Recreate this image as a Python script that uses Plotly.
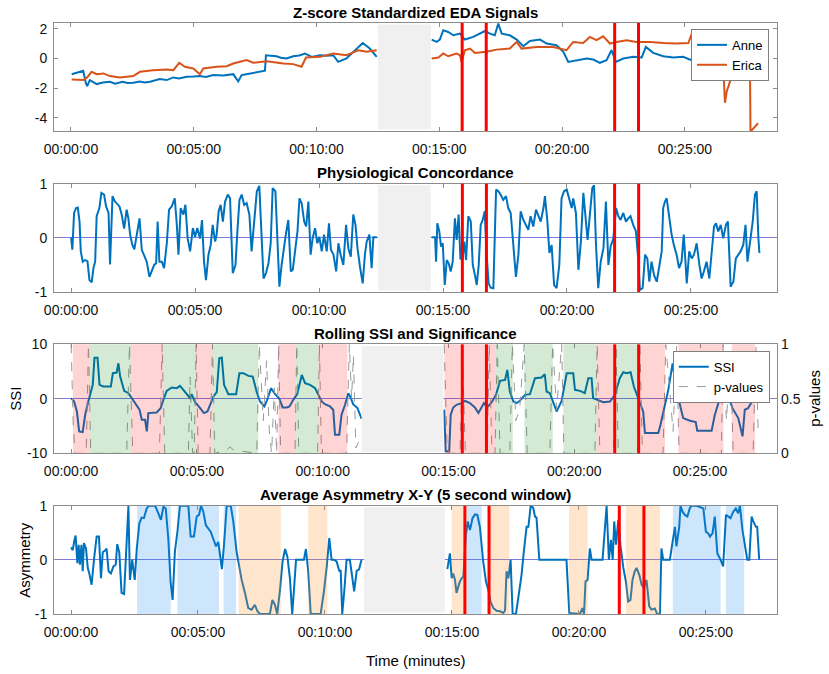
import plotly.graph_objects as go

# ---- data (time in minutes) ----
anne_a = [(0.03,-1.06),(0.30,-0.90),(0.50,-0.83),(0.61,-1.68),(0.66,-1.87),(0.77,-1.46),(1.05,-1.73),(1.30,-1.62),
          (1.59,-1.57),(1.80,-1.70),(2.10,-1.58),(2.30,-1.66),(2.54,-1.64),(2.80,-1.55),(3.00,-1.62),(3.22,-1.57),
          (3.62,-1.39),(3.90,-1.46),(4.17,-1.28),(4.40,-1.35),(4.71,-1.24),(5.00,-1.22),(5.25,-1.19),(5.50,-1.25),
          (5.79,-1.12),(6.20,-1.15),(6.61,-1.06),(6.81,-1.55),(6.95,-1.12),(7.20,-1.05),(7.45,-0.98),(7.70,-0.90),
          (7.90,-0.83),(7.94,0.22),(8.10,0.20),(8.37,0.15),(8.55,0.05),(8.78,0.0),(9.05,0.15),(9.30,0.20),
          (9.53,0.34),(9.80,0.11),(10.14,0.22),(10.40,0.18),(10.68,0.22),(10.88,-0.23),(11.22,0.0),(11.49,0.45),
          (11.88,1.05),(12.17,0.67),(12.45,0.11)]
anne_b = [(14.69,1.28),(14.89,1.12),(15.02,1.28),(15.16,1.91),(15.36,1.79),(15.57,1.57),(15.84,1.68),(16.04,1.28),
          (16.38,1.46),(16.65,1.68),(16.86,1.86),(17.06,1.68),(17.26,1.57),(17.40,2.36),(17.54,1.68),(17.87,1.57),
          (18.15,1.28),(18.42,0.83),(18.69,1.19),(19.10,1.28),(19.37,1.01),(19.77,0.90),(20.05,0.45),(20.25,-0.23),
          (20.59,-0.11),(21.00,0.0),(21.27,-0.07),(21.54,-0.29),(21.81,-0.11),(22.01,0.56),(22.19,-0.23),(22.49,0.0),
          (22.90,0.11),(23.24,0.07),(23.41,0.78),(23.71,0.38),(24.12,0.15),(24.52,0.07),(24.93,0.11),(25.34,-0.16),
          (25.75,0.0),(26.02,-0.11),(26.43,-0.34)]
erica_a = [(0.03,-1.42),(0.50,-1.46),(0.66,-1.28),(0.84,-0.90),(1.05,-1.06),(1.32,-1.01),(1.59,-1.19),(1.99,-1.28),
           (2.54,-1.19),(2.81,-0.90),(3.35,-0.79),(3.90,-0.74),(4.17,-0.79),(4.41,-0.29),(4.64,-0.56),(4.98,-0.67),
           (5.25,-1.06),(5.39,-0.67),(5.93,-0.56),(6.34,-0.52),(6.61,-0.34),(7.15,-0.11),(7.42,-0.29),(7.97,-0.18),
           (8.65,-0.34),(9.05,-0.38),(9.39,-0.56),(9.57,0.07),(10.14,0.11),(10.68,0.34),(11.22,0.22),(11.70,0.56),
           (12.04,0.45),(12.45,0.56)]
erica_b = [(14.69,0.0),(14.96,0.07),(15.16,0.34),(15.36,0.15),(15.70,0.34),(15.84,0.22),(15.91,-0.23),(16.04,0.56),
           (16.25,0.67),(16.45,0.38),(16.92,0.45),(17.33,0.60),(17.87,0.67),(18.15,1.12),(18.35,0.67),(18.96,0.78),
           (19.64,0.78),(20.18,0.56),(20.45,1.12),(20.86,1.05),(21.13,1.46),(21.40,1.24),(21.67,1.50),(21.95,1.01),
           (22.22,1.12),(22.63,1.24),(23.03,1.12),(23.58,1.12),(24.12,1.05),(24.66,1.01),(25.14,1.05),(25.27,1.64),
           (25.47,1.34),(25.68,1.01),(25.88,1.24),(26.20,0.90),(26.45,0.30),(26.56,-0.45),(26.63,-2.99),(26.70,-2.25),
           (26.90,-1.24),(27.04,-1.46),(27.24,-1.24),(27.44,-1.30),(27.58,-0.67),(27.65,-0.56),(27.67,-4.94),(27.98,-4.38)]

conc_a = [(0,0.01),(0.05,-0.22),(0.12,0.46),(0.20,0.55),(0.27,0.56),(0.34,0.30),(0.39,-0.25),(0.47,-0.44),(0.56,-0.41),
          (0.66,-0.43),(0.74,-0.78),(0.83,-0.82),(0.90,-0.56),(0.97,-0.44),(1.03,0.40),(1.14,0.55),(1.22,0.83),(1.33,0.80),
          (1.41,0.58),(1.51,0.46),(1.57,-0.49),(1.67,0.77),(1.77,0.67),(1.95,0.58),(2.04,0.43),(2.14,0.17),(2.24,0.52),
          (2.31,0.36),(2.38,0.06),(2.47,-0.13),(2.55,-0.21),(2.65,0.06),(2.76,0.36),(2.85,-0.22),(2.96,-0.35),(3.05,-0.44),
          (3.16,-0.72),(3.27,-0.59),(3.35,-0.50),(3.43,-0.47),(3.49,0.30),(3.56,-0.44),(3.66,-0.44),(3.75,-0.56),(3.86,-0.10),
          (3.95,0.52),(4.06,0.58),(4.18,0.73),(4.26,0.27),(4.33,-0.31),(4.42,0.55),(4.53,0.43),(4.61,0.61),(4.70,-0.01),
          (4.80,-0.25),(4.91,0.18),(5.00,0.02),(5.09,0.18),(5.20,-0.01),(5.28,0.33),(5.36,-0.44),(5.44,-0.78),(5.54,-0.31),
          (5.63,-0.13),(5.71,0.24),(5.81,-0.07),(5.87,0.06),(5.95,0.49),(6.03,0.61),(6.12,0.30),(6.21,0.67),(6.32,0.80),
          (6.41,0.73),(6.52,-0.65),(6.63,-0.50),(6.71,0.15),(6.79,0.70),(6.88,0.80),(6.98,0.61),(7.08,0.64),(7.19,0.43),
          (7.28,-0.25),(7.38,0.24),(7.49,0.86),(7.59,0.96),(7.69,-0.01),(7.76,-0.75),(7.86,-0.65),(7.96,-0.47),(8.05,-0.10),
          (8.13,0.92),(8.24,0.86),(8.33,-0.19),(8.40,-0.90),(8.49,-0.50),(8.59,-0.13),(8.67,0.09),(8.76,0.33),(8.86,-0.62),
          (8.94,-0.59),(9.03,-0.25),(9.13,0.12),(9.21,0.73),(9.30,0.64),(9.40,0.30),(9.48,0.21),(9.57,0.67),(9.66,-0.31),
          (9.74,-0.01),(9.84,0.18),(9.93,-0.10),(10.01,0.02),(10.11,-0.25),(10.20,0.06),(10.31,-0.25),(10.40,0.27),
          (10.48,-0.22),(10.58,-0.31),(10.69,-0.62),(10.78,-0.10),(10.87,-0.31),(10.98,-0.50),(11.09,0.24),(11.18,-0.19),
          (11.28,-0.35),(11.38,0.43),(11.47,0.24),(11.55,-0.19),(11.65,-0.53),(11.76,-0.84),(11.85,-0.31),(11.92,-0.07),
          (12.03,0.06),(12.12,-0.56),(12.19,0.01),(12.33,0.01)]
conc_b = [(14.54,0.01),(14.68,0.01),(14.72,-0.44),(14.77,0.27),(14.85,0.12),(14.92,-0.16),(14.99,-0.10),(15.07,-0.87),
          (15.15,-0.41),(15.23,-0.47),(15.31,-0.62),(15.39,-0.44),(15.48,0.36),(15.55,-0.04),(15.63,0.43),(15.70,-0.38),
          (15.78,-0.41),(15.86,-0.07),(15.93,-0.41),(16.02,0.40),(16.12,0.30),(16.20,-0.50),(16.29,-0.69),(16.36,-0.87),
          (16.44,-0.50),(16.52,0.24),(16.60,0.33),(16.68,0.49),(16.76,-0.31),(16.84,-0.84),(16.92,-0.92),(17.03,-0.93),
          (17.14,0.89),(17.23,0.86),(17.32,0.80),(17.43,0.70),(17.54,0.77),(17.63,0.55),(17.73,0.46),(17.83,-0.10),
          (17.94,-0.72),(18.04,-0.31),(18.13,0.49),(18.24,0.33),(18.35,0.24),(18.44,0.15),(18.53,0.40),(18.64,0.21),
          (18.75,0.52),(18.84,0.43),(18.94,0.30),(19.05,0.55),(19.11,0.77),(19.21,0.30),(19.29,-0.28),(19.38,-0.13),
          (19.48,-0.87),(19.58,-0.93),(19.69,-0.50),(19.78,0.73),(19.88,0.86),(19.99,0.89),(20.09,0.73),(20.19,0.55),
          (20.25,0.73),(20.36,0.46),(20.46,-0.59),(20.56,-0.07),(20.66,0.83),(20.74,0.40),(20.83,-0.04),(20.93,0.46),
          (21.02,0.92),(21.09,0.97),(21.17,-0.13),(21.26,-0.93),(21.36,-0.44),(21.47,-0.19),(21.57,0.67),(21.67,-0.50),
          (21.76,-0.16),(21.87,-0.01),(21.98,0.55),(22.07,0.40),(22.16,0.33),(22.27,0.46),(22.38,0.30),(22.47,0.36),
          (22.56,0.40),(22.67,0.24),(22.78,0.12),(22.88,-0.44),(22.94,-0.96),(23.05,-0.93),(23.15,-0.31),(23.24,-0.38),
          (23.32,-0.81),(23.41,-0.44),(23.51,-0.69),(23.62,-0.81),(23.72,-0.50),(23.82,-0.25),(23.88,0.55),(23.95,0.67),
          (24.02,0.73),(24.11,0.43),(24.22,0.06),(24.31,-0.13),(24.42,-0.31),(24.52,-0.56),(24.62,-0.44),(24.71,0.06),
          (24.83,-0.84),(24.93,-0.25),(25.03,-0.38),(25.12,-0.31),(25.23,-0.10),(25.34,-0.50),(25.43,-0.75),(25.52,-0.62),
          (25.63,-0.44),(25.74,-0.75),(25.83,-0.25),(25.93,0.21),(26.01,0.27),(26.10,0.12),(26.20,0.24),(26.30,-0.01),
          (26.41,0.24),(26.49,0.30),(26.60,-0.90),(26.71,-0.81),(26.81,-0.38),(26.91,-0.31),(27.00,-0.25),(27.11,-0.13),
          (27.20,0.24),(27.28,-0.44),(27.38,-0.07),(27.49,0.30),(27.58,0.80),(27.65,0.86),(27.72,-0.01),(27.76,-0.28)]

ssi_a = [(0,0.12),(0.12,-0.49),(0.23,-2.32),(0.32,-5.98),(0.46,-6.10),(0.56,-2.93),(0.65,-1.10),(0.75,0.43),(0.86,2.56),
         (0.93,7.56),(1.05,7.56),(1.13,2.56),(1.28,2.26),(1.58,2.26),(1.66,4.70),(1.81,4.82),(1.88,6.52),(1.95,4.09),
         (2.11,1.46),(2.28,1.04),(2.41,0.12),(2.54,-0.79),(2.72,-2.01),(2.81,-3.84),(2.94,-3.84),(3.01,-5.98),(3.07,-2.62),
         (3.40,-2.50),(3.56,-1.71),(3.67,-0.18),(3.80,1.46),(4.00,2.07),(4.20,1.95),(4.33,2.38),(4.46,1.65),(4.60,0.73),
         (4.73,0.12),(4.79,0.85),(4.93,-0.61),(5.13,-1.71),(5.28,-2.62),(5.42,-2.32),(5.55,-0.98),(5.66,0.43),(5.79,1.22),
         (5.89,7.44),(5.99,7.56),(6.08,2.56),(6.25,0.85),(6.56,0.85),(6.69,4.70),(6.85,4.70),(7.05,4.21),(7.22,4.09),
         (7.38,1.22),(7.51,-0.49),(7.68,-1.40),(7.78,-0.37),(7.95,1.95),(8.11,0.85),(8.28,0.0),(8.41,-1.59),(8.57,-1.59),
         (8.68,-1.40),(8.83,-0.18),(8.99,0.85),(9.07,2.44),(9.17,4.39),(9.30,2.87),(9.50,2.56),(9.70,1.95),(9.83,0.73),
         (9.96,-0.49),(10.09,-0.98),(10.29,-1.40),(10.42,-2.01),(10.49,-6.59),(10.66,-6.59),(10.75,-2.93),(10.89,-1.10),
         (11.02,1.04),(11.11,0.25),(11.21,-0.98),(11.38,-1.71),(11.48,-2.93),(11.55,-3.66)]
ssi_b = [(14.83,-2.01),(14.89,-9.63),(15.03,-9.63),(15.09,-2.93),(15.19,-1.59),(15.32,-1.10),(15.52,-0.79),(15.66,-0.37),
         (15.85,-0.79),(16.05,-1.59),(16.19,-2.62),(16.32,-1.40),(16.41,-0.79),(16.54,-1.59),(16.72,-0.61),(16.89,0.73),
         (17.05,3.29),(17.25,3.48),(17.34,5.30),(17.44,1.34),(17.58,-0.49),(17.71,-0.79),(17.84,-0.37),(18.04,0.73),
         (18.24,0.85),(18.44,3.78),(18.70,3.90),(18.83,4.51),(18.90,1.34),(19.03,1.04),(19.17,-0.79),(19.30,-2.32),
         (19.50,-0.37),(19.70,4.70),(19.96,4.70),(20.03,1.65),(20.23,1.46),(20.42,1.04),(20.56,3.78),(20.69,3.78),
         (20.75,0.12),(20.95,-0.18),(21.15,-0.61),(21.42,-0.49),(21.62,0.73),(21.81,3.78),(21.95,4.88),(22.08,4.70),
         (22.24,4.88),(22.37,2.26),(22.54,0.12),(22.74,-2.32),(22.81,-6.28),(23.34,-6.28),(23.43,-4.76),(23.60,-1.40),
         (23.74,1.65),(23.91,6.52),(24.04,2.26),(24.17,-0.49),(24.33,-3.54),(24.60,-4.02),(24.83,-4.27),(24.89,-5.85),
         (25.46,-5.85),(25.59,-2.93),(25.79,0.12),(25.99,0.61),(26.12,0.43),(26.29,-1.71),(26.52,-3.54),(26.69,-6.89),
         (26.78,-2.01),(26.91,-1.71),(27.05,-0.61),(27.24,0.61)]
pval_a = [(0,1.0),(0.08,0.3),(0.15,0.0),(0.60,0.0),(0.69,1.0),(0.78,0.0),(2.21,0.0),(2.32,1.0),(2.45,0.0),(3.51,0.0),
          (3.62,1.0),(3.72,0.0),(4.66,0.0),(4.73,0.7),(4.83,0.0),(4.89,0.0),(4.97,1.0),(5.05,0.0),(5.52,0.0),(5.62,1.0),
          (5.71,0.0),(6.19,0.03),(6.32,0.06),(6.45,0.03),(7.38,0.0),(7.48,1.0),(7.64,0.3),(7.77,0.85),(7.88,0.2),(7.97,0.0),
          (8.08,0.6),(8.17,0.0),(8.25,1.0),(8.33,0.0),(8.90,0.0),(8.97,1.0),(9.05,0.0),(9.80,0.0),(9.87,1.0),(9.95,0.0),
          (10.95,0.0),(11.06,1.0),(11.15,0.5),(11.22,0.9),(11.32,0.05),(11.42,0.1)]
pval_b = [(14.83,1.0),(14.95,0.0),(15.46,0.0),(15.56,0.9),(15.67,0.0),(16.54,0.0),(16.62,1.0),(16.73,0.0),(16.85,0.0),
          (16.94,1.0),(17.05,0.0),(17.44,0.0),(17.54,1.0),(17.68,0.3),(17.83,0.4),(18.01,1.0),(18.13,0.0),(19.03,0.0),
          (19.14,1.0),(19.30,0.4),(19.50,1.0),(19.59,0.0),(20.82,0.0),(20.91,1.0),(21.02,0.0),(21.55,0.0),(21.66,1.0),
          (21.75,0.0),(22.52,0.0),(22.61,1.0),(22.71,0.0),(23.53,0.0),(23.64,1.0),(23.93,0.2),(24.06,1.0),(24.17,0.0),
          (25.85,0.0),(25.92,1.0),(26.05,0.3),(26.21,0.9),(26.32,0.0),(27.11,0.0),(27.22,1.0),(27.31,0.2)]

asym_a = [(0,0.23),(0.07,0.18),(0.12,0.33),(0.18,0.45),(0.25,-0.06),(0.30,0.28),(0.35,-0.09),(0.41,0.28),(0.46,-0.21),
          (0.51,0.31),(0.59,0.21),(0.66,-0.15),(0.72,-0.25),(0.81,-0.46),(0.91,0.03),(1.01,0.43),(1.10,0.43),(1.18,-0.34),
          (1.25,0.14),(1.34,0.17),(1.40,0.21),(1.48,-0.21),(1.57,-0.25),(1.67,-0.12),(1.76,-0.09),(1.82,0.29),(1.90,0.14),
          (1.99,-0.61),(2.09,-0.63),(2.17,0.03),(2.26,1.0),(2.32,-0.37),(2.41,0.0),(2.51,-0.37),(2.59,0.21),(2.69,0.67),
          (2.78,0.78),(2.87,0.77),(2.98,0.95),(3.07,1.0),(3.31,1.0),(3.44,0.86),(3.54,0.74),(3.64,0.98),(3.73,0.95),
          (3.83,0.40),(3.92,-0.40),(4.00,-0.74),(4.09,0.15),(4.19,0.52),(4.29,1.0),(4.62,1.0),(4.71,0.43),(4.84,0.43),
          (4.95,0.80),(5.04,0.83),(5.12,1.0),(5.21,0.89),(5.31,0.64),(5.42,0.57),(5.50,0.52),(5.60,0.39),(5.71,0.25),
          (5.80,0.33),(5.89,0.03),(5.94,-0.17),(6.02,0.25),(6.13,1.0),(6.29,1.0),(6.39,0.71),(6.52,0.15),(6.60,-0.09),
          (6.72,-0.37),(6.85,-0.61),(6.98,-0.89),(7.11,-0.92),(7.24,-0.83),(7.34,-0.95),(7.44,-1.0),(7.83,-1.0),(7.93,-0.74),
          (8.03,-0.83),(8.12,-1.0),(8.23,-0.55),(8.33,-0.03),(8.43,0.20),(8.52,0.06),(8.62,-0.34),(8.71,-1.0),(8.78,-0.55),
          (8.86,0.0),(9.17,0.0),(9.25,0.20),(9.34,-0.21),(9.44,-1.0),(9.83,-1.0),(9.96,-0.58),(10.07,-0.12),(10.17,0.40),
          (10.26,0.0),(10.35,0.0),(10.46,-0.03),(10.56,-0.20),(10.62,-0.20),(10.68,-1.0),(10.76,-0.58),(10.85,0.0),
          (10.98,0.0),(11.09,-0.43),(11.15,-0.58),(11.25,-0.20),(11.34,-0.18),(11.44,0.0)]
asym_b = [(14.82,-0.17),(14.92,0.12),(14.99,-0.34),(15.05,-0.25),(15.12,-0.37),(15.18,-0.61),(15.29,-0.43),(15.38,-0.34),
          (15.45,-0.31),(15.55,0.46),(15.62,0.71),(15.71,0.55),(15.81,0.77),(15.91,0.84),(16.00,0.83),(16.10,0.61),
          (16.23,-0.03),(16.34,-0.40),(16.43,-0.55),(16.52,-0.77),(16.63,-0.89),(16.76,-0.94),(16.89,-0.95),(17.02,-0.98),
          (17.09,-0.94),(17.15,-0.21),(17.22,-0.34),(17.31,0.0),(17.39,-1.0),(17.52,-1.0),(17.61,-0.71),(17.74,-0.28),
          (17.83,0.15),(17.94,0.61),(18.01,0.61),(18.10,1.0),(18.20,0.96),(18.27,0.80),(18.33,0.78),(18.44,0.0),
          (19.51,0.0),(19.62,-0.98),(20.04,-1.0),(20.14,-0.89),(20.20,-1.0),(20.26,-0.40),(20.34,-0.37),(20.43,0.21),
          (20.50,0.0),(20.93,0.0),(21.09,1.0),(21.18,0.0),(21.26,0.37),(21.33,0.0),(21.39,0.71),(21.46,0.28),(21.55,0.74),
          (21.64,0.25),(21.75,-0.15),(21.85,-0.40),(21.94,-0.77),(22.03,-0.74),(22.11,-0.37),(22.20,-0.21),(22.27,-0.15),
          (22.38,-0.28),(22.47,-0.46),(22.56,-0.52),(22.66,-0.37),(22.77,-0.86),(22.86,-0.92),(22.99,-0.90),(23.08,-1.0),
          (23.19,-1.0),(23.25,0.21),(23.32,0.0),(23.58,0.0),(23.69,0.31),(23.78,0.61),(23.84,0.25),(23.95,0.61),(24.00,1.0),
          (24.08,0.89),(24.17,0.83),(24.27,0.80),(24.37,0.96),(24.44,1.0),(24.63,1.0),(24.90,0.95),(25.00,0.52),(25.09,0.49),
          (25.16,0.43),(25.26,0.49),(25.35,0.80),(25.45,0.12),(25.55,0.03),(25.68,-0.12),(25.79,0.83),(25.88,0.80),
          (25.97,0.77),(26.08,0.89),(26.18,0.95),(26.27,0.86),(26.34,1.0),(26.44,0.55),(26.54,0.28),(26.63,0.0),(26.71,0.0),
          (26.80,0.80),(26.87,0.71),(26.97,0.61),(27.02,0.61),(27.10,0.0)]

# gaps (missing data), event markers and significance bands, per panel
gap = {1: (12.50, 14.66), 2: (12.38, 14.50), 3: (11.55, 14.80), 4: (11.54, 14.72)}
events = {1: [15.93, 16.91, 22.14, 23.11], 2: [15.78, 16.75, 21.92, 22.89],
          3: [15.55, 16.51, 21.61, 22.56], 4: [15.51, 16.46, 21.59, 22.56]}
ssi_neg = [(0.07,0.73),(2.37,3.67),(4.93,5.62),(8.24,8.94),(9.83,10.98),(14.84,16.89),(20.89,21.66),(22.62,23.61),
           (24.14,25.93),(26.26,27.19)]
ssi_pos = [(0.73,2.37),(3.67,4.93),(5.62,7.44),(8.94,9.83),(16.89,17.56),(18.02,19.15),(19.57,20.89),(21.66,22.62)]
asym_pos = [(2.60,3.93),(4.19,5.83),(6.01,6.50),(15.58,16.17),(23.70,25.58),(25.79,26.51)]
asym_neg = [(6.60,8.26),(9.34,10.09),(14.99,15.58),(16.46,17.26),(19.61,20.34),(21.85,23.19)]

xranges = {1: [-0.69, 28.75], 2: [-0.69, 28.47], 3: [-0.68, 28.06], 4: [-0.67, 27.80]}
tick_min = [0, 5, 10, 15, 20, 25]
tick_txt = ['00:00:00', '00:05:00', '00:10:00', '00:15:00', '00:20:00', '00:25:00']

BLUE, ORANGE = '#0072BD', '#D95319'
AX = '#8c8c8c'
FONT = 'Liberation Sans, Arial, sans-serif'


def join(*parts):
    xs, ys = [], []
    for i, p in enumerate(parts):
        if i:
            xs.append(None)
            ys.append(None)
        xs += [a for a, _ in p]
        ys += [b for _, b in p]
    return xs, ys


fig = go.Figure()

x, y = join(anne_a, anne_b)
fig.add_trace(go.Scatter(x=x, y=y, mode='lines', name='Anne', line=dict(color=BLUE, width=2),
                         xaxis='x', yaxis='y', legend='legend'))
x, y = join(erica_a, erica_b)
fig.add_trace(go.Scatter(x=x, y=y, mode='lines', name='Erica', line=dict(color=ORANGE, width=2),
                         xaxis='x', yaxis='y', legend='legend'))
x, y = join(conc_a, conc_b)
fig.add_trace(go.Scatter(x=x, y=y, mode='lines', showlegend=False, line=dict(color=BLUE, width=2),
                         xaxis='x2', yaxis='y2'))
x, y = join(ssi_a, ssi_b)
fig.add_trace(go.Scatter(x=x, y=y, mode='lines', name='SSI', line=dict(color=BLUE, width=2),
                         xaxis='x3', yaxis='y3', legend='legend2'))
x, y = join(pval_a, pval_b)
fig.add_trace(go.Scatter(x=x, y=y, mode='lines', name='p-values', line=dict(color='#999999', width=1, dash='dash'),
                         xaxis='x3', yaxis='y5', legend='legend2'))
x, y = join(asym_a, asym_b)
fig.add_trace(go.Scatter(x=x, y=y, mode='lines', showlegend=False, line=dict(color=BLUE, width=2),
                         xaxis='x4', yaxis='y4'))

shapes = []


def band(k, x0, x1, color, op):
    sfx = '' if k == 1 else str(k)
    shapes.append(dict(type='rect', xref='x' + sfx, yref='y' + sfx + ' domain', x0=x0, x1=x1, y0=0, y1=1,
                       fillcolor=color, opacity=op, line=dict(width=0), layer='above'))


for a, b in ssi_neg:
    band(3, a, b, 'rgb(255,0,0)', 0.17)
for a, b in ssi_pos:
    band(3, a, b, 'rgb(0,128,0)', 0.17)
for a, b in asym_pos:
    band(4, a, b, 'rgb(30,140,240)', 0.22)
for a, b in asym_neg:
    band(4, a, b, 'rgb(250,150,50)', 0.25)

for k, (a, b) in gap.items():
    sfx = '' if k == 1 else str(k)
    shapes.append(dict(type='rect', xref='x' + sfx, yref='y' + sfx + ' domain', x0=a, x1=b, y0=0.015, y1=0.985,
                       fillcolor='#F0F0F0', line=dict(width=0), layer='above'))

for k, ts in events.items():
    sfx = '' if k == 1 else str(k)
    for t in ts:
        shapes.append(dict(type='line', xref='x' + sfx, yref='y' + sfx + ' domain', x0=t, x1=t, y0=0, y1=1,
                           line=dict(color='#FF0000', width=3), layer='above'))

domains = {1: [0.8173, 1.0], 2: [0.5448, 0.7281], 3: [0.2719, 0.4563], 4: [0.0, 0.1832]}
yspec = {1: ([-4.9, 2.4], [-4, -2, 0, 2], ['-4', '-2', '0', '2'], False),
         2: ([-1, 1], [-1, 0, 1], ['-1', '0', '1'], True),
         3: ([-10, 10], [-10, 0, 10], ['-10', '0', '10'], True),
         4: ([-1, 1], [-1, 0, 1], ['-1', '0', '1'], True)}

axes = {}
for k in range(1, 5):
    sfx = '' if k == 1 else str(k)
    axes['xaxis' + sfx] = dict(domain=[0, 1], anchor='y' + sfx, range=xranges[k], tickvals=tick_min,
                               ticktext=tick_txt, ticks='inside', ticklen=4, tickcolor=AX, showline=True,
                               linecolor=AX, linewidth=1, mirror='ticks', showgrid=False, zeroline=False,
                               automargin=False, ticklabelstandoff=5,
                               tickfont=dict(size=14, color='#111', family=FONT))
    rng, tv, tt, zl = yspec[k]
    axes['yaxis' + sfx] = dict(domain=domains[k], anchor='x' + sfx, range=rng, tickvals=tv, ticktext=tt,
                               ticks='inside', ticklen=4, tickcolor=AX, showline=True, linecolor=AX, linewidth=1,
                               mirror=(True if k == 3 else 'ticks'), showgrid=False, zeroline=zl,
                               zerolinecolor='rgba(90,90,215,0.8)', zerolinewidth=1, ticklabelstandoff=3,
                               automargin=False, tickfont=dict(size=14, color='#111', family=FONT))
axes['yaxis5'] = dict(overlaying='y3', anchor='x3', side='right', range=[0, 1], tickvals=[0, 0.5, 1],
                      ticktext=['0', '0.5', '1'], ticks='inside', ticklen=4, tickcolor=AX, showline=False,
                      showgrid=False, zeroline=False, ticklabelstandoff=3, automargin=False,
                      tickfont=dict(size=14, color='#111', family=FONT))

titles = ['Z-score Standardized EDA Signals', 'Physiological Concordance', 'Rolling SSI and Significance',
          'Average Asymmetry X-Y (5 second window)']
ann = []
for k, t in enumerate(titles, start=1):
    ann.append(dict(text='<b>' + t + '</b>', x=0.5, y=domains[k][1], xref='paper', yref='paper',
                    xanchor='center', yanchor='middle', yshift=11, showarrow=False,
                    font=dict(size=15, color='#000', family=FONT)))
mid3 = sum(domains[3]) / 2
mid4 = sum(domains[4]) / 2
lab = dict(xref='paper', yref='paper', xanchor='center', yanchor='middle', showarrow=False,
           font=dict(size=15, color='#000', family=FONT))
ann += [
    dict(lab, text='SSI', x=0, y=mid3, xshift=-38, textangle=-90),
    dict(lab, text='p-values', x=1, y=mid3, xshift=38, textangle=-90),
    dict(lab, text='Asymmetry', x=0, y=mid4, xshift=-29, textangle=-90),
    dict(lab, text='Time (minutes)', x=0.5, y=0, yshift=-46),
]

leg = dict(bgcolor='white', bordercolor='#7f7f7f', borderwidth=1, font=dict(size=13, color='#000', family=FONT),
           itemwidth=30, tracegroupgap=0, xanchor='right', yanchor='top')

fig.update_layout(
    width=829, height=674,
    margin=dict(l=54, r=52, t=23, b=60, autoexpand=False),
    paper_bgcolor='white', plot_bgcolor='white',
    font=dict(family=FONT, color='#000'),
    shapes=shapes, annotations=ann,
    legend=dict(leg, x=0.989, y=0.99),
    legend2=dict(leg, x=0.990, y=0.4455),
    **axes,
)

# drop the browser's default 8px page margin so the figure fills the window
fig.write_html('out.html', config={'displayModeBar': False},
               post_script="document.body.style.margin = '0';")
